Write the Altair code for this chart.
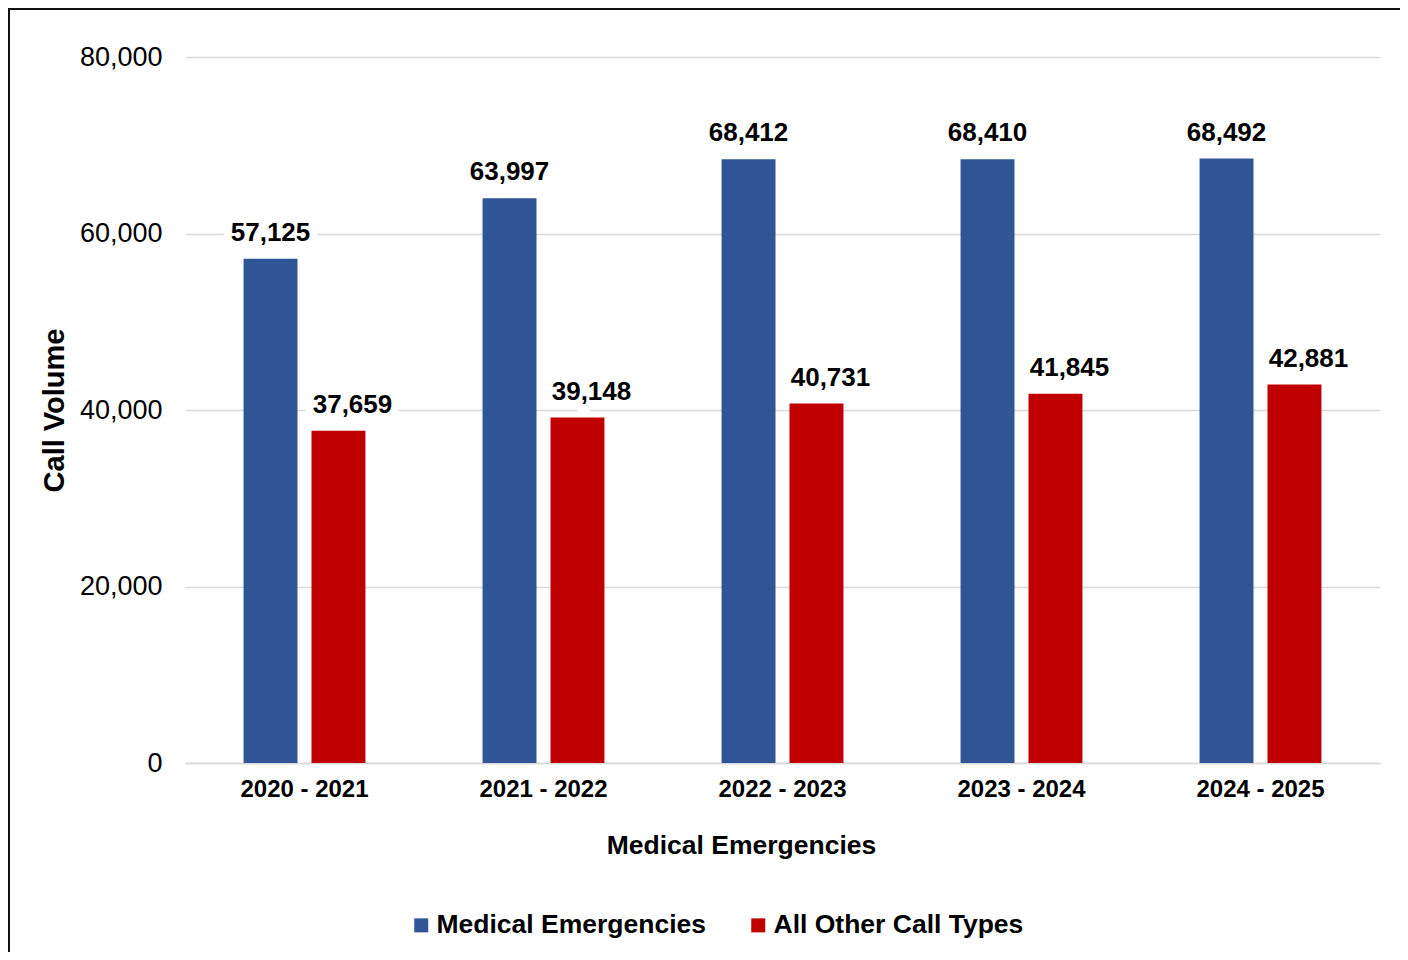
import altair as alt
import pandas as pd

periods = ["2020 - 2021", "2021 - 2022", "2022 - 2023", "2023 - 2024", "2024 - 2025"]
series = ["Medical Emergencies", "All Other Call Types"]
medical = [57125, 63997, 68412, 68410, 68492]
other = [37659, 39148, 40731, 41845, 42881]
colors = ["#2F5597", "#C00000"]
y_ticks = [0, 20000, 40000, 60000, 80000]

rows = []
for p, m, o in zip(periods, medical, other):
    rows.append({"period": p, "series": series[0], "value": m})
    rows.append({"period": p, "series": series[1], "value": o})
df = pd.DataFrame(rows)

FONT = "Liberation Sans"

x_enc = alt.X(
    "period:N",
    sort=periods,
    scale=alt.Scale(paddingInner=0.49, paddingOuter=0.245),
    axis=alt.Axis(
        title="Medical Emergencies",
        labelAngle=0,
        labelFont=FONT,
        labelFontSize=24,
        labelFontWeight="bold",
        labelColor="#000000",
        labelPadding=14,
        ticks=False,
        tickSize=0,
        domain=True,
        domainColor="#d9d9d9",
        domainWidth=1.5,
        titleFont=FONT,
        titleFontSize=26.5,
        titleFontWeight="bold",
        titleColor="#000000",
        titleX=556,
        titleY=90,
        titleAlign="center",
        titleBaseline="alphabetic",
    ),
)
xoff_enc = alt.XOffset(
    "series:N",
    sort=series,
    scale=alt.Scale(paddingInner=0.206, paddingOuter=0),
)
y_enc = alt.Y(
    "value:Q",
    scale=alt.Scale(domain=[0, 80000]),
    axis=alt.Axis(
        title="Call Volume",
        values=y_ticks,
        format=",d",
        labelFont=FONT,
        labelFontSize=27,
        labelColor="#000000",
        labelPadding=23,
        ticks=False,
        tickSize=0,
        domain=False,
        grid=True,
        gridColor="#d9d9d9",
        gridWidth=1.5,
        titleFont=FONT,
        titleFontSize=29,
        titleFontWeight="bold",
        titleColor="#000000",
        titleAngle=270,
        titleX=-122,
        titleY=353,
        titleAlign="center",
        titleBaseline="alphabetic",
    ),
)

base = alt.Chart(df)

bars = base.mark_bar().encode(
    x=x_enc,
    xOffset=xoff_enc,
    y=y_enc,
    color=alt.Color(
        "series:N",
        sort=series,
        scale=alt.Scale(domain=series, range=colors),
        legend=alt.Legend(
            title=None,
            orient="none",
            legendX=223,
            legendY=855,
            direction="horizontal",
            symbolType="square",
            symbolSize=196,
            symbolStrokeWidth=0,
            symbolOpacity=1,
            labelFont=FONT,
            labelFontSize=26.5,
            labelFontWeight="bold",
            labelColor="#000000",
            labelOffset=2,
            columnPadding=38,
            labelLimit=400,
        ),
    ),
)


def label_layer(series_name, dx, halo):
    props = dict(font=FONT, fontSize=26, fontWeight="bold", dy=-18, dx=dx,
                 baseline="alphabetic")
    if halo:
        props.update(stroke="white", strokeWidth=16, fill="white", strokeJoin="round")
    else:
        props.update(color="#000000")
    return base.transform_filter(alt.datum.series == series_name).mark_text(**props).encode(
        x=alt.X("period:N", sort=periods),
        xOffset=alt.XOffset("series:N", sort=series),
        y="value:Q",
        text=alt.Text("value:Q", format=",d"),
    )


halo_med = label_layer(series[0], 0, True)
halo_oth = label_layer(series[1], 14, True)
lab_med = label_layer(series[0], 0, False)
lab_oth = label_layer(series[1], 14, False)

frame_df = pd.DataFrame({"k": [0]})
top_line = alt.Chart(frame_df).mark_rule(color="#111111", strokeWidth=2).encode(
    x=alt.value(-176), x2=alt.value(1230), y=alt.value(-48)
)
left_line = alt.Chart(frame_df).mark_rule(color="#111111", strokeWidth=2).encode(
    x=alt.value(-176), y=alt.value(-49), y2=alt.value(900)
)

chart = alt.layer(bars, halo_med, halo_oth, lab_med, lab_oth, top_line, left_line).properties(
    width=1195,
    height=706,
    autosize=alt.AutoSizeParams(type="none"),
    padding={"left": 177, "top": 49, "right": 20, "bottom": 189},
    background="white",
).configure_view(stroke=None)

chart.save("out.html", embed_options={"renderer": "svg", "actions": False})
